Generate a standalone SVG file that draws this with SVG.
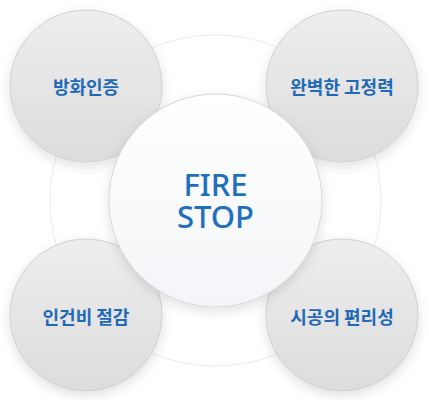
<svg xmlns="http://www.w3.org/2000/svg" width="429" height="400" viewBox="0 0 429 400">
<defs>
<linearGradient id="gSmall" x1="0" y1="0" x2="0" y2="1">
<stop offset="0" stop-color="#eeeeee"/>
<stop offset="1" stop-color="#dcdcdc"/>
</linearGradient>
<linearGradient id="gCenter" x1="0" y1="0" x2="0" y2="1">
<stop offset="0" stop-color="#ffffff"/>
<stop offset="1" stop-color="#f3f5f8"/>
</linearGradient>
<filter id="shadow" x="-30%" y="-30%" width="160%" height="160%">
<feDropShadow dx="0" dy="4" stdDeviation="6" flood-color="#000" flood-opacity="0.12"/>
</filter>
</defs>
<style>
.small{fill:url(#gSmall);stroke:#cfcfcf;stroke-width:1;filter:url(#shadow)}
.center{fill:url(#gCenter);stroke:#d6d6d6;stroke-width:1;filter:url(#shadow)}
.lbl{font-family:"Noto Sans CJK KR","Noto Sans",sans-serif;font-size:18px;font-weight:700;fill:#1f69b6;text-anchor:middle}
.big{font-family:"Noto Sans","Open Sans",sans-serif;font-size:31px;font-weight:500;fill:#1f6fbf;text-anchor:middle}
</style>
<rect width="429" height="400" fill="#ffffff"/>
<g id="ring">
<circle cx="215.5" cy="200.5" r="165.5" fill="#ffffff" stroke="#ececec" stroke-width="1"/>
</g>
<g id="connectors"></g>
<g id="node-tl">
<circle class="small" cx="86" cy="86" r="76"/>
<text class="lbl" x="86" y="94">방화인증</text>
</g>
<g id="node-tr">
<circle class="small" cx="342" cy="86" r="76"/>
<text class="lbl" x="342" y="94">완벽한 고정력</text>
</g>
<g id="node-bl">
<circle class="small" cx="86" cy="315" r="76"/>
<text class="lbl" x="86" y="324">인건비 절감</text>
</g>
<g id="node-br">
<circle class="small" cx="342" cy="315" r="76"/>
<text class="lbl" x="342" y="324">시공의 편리성</text>
</g>
<g id="node-center">
<circle class="center" cx="215.5" cy="200.5" r="106.5"/>
<text class="big" x="215.5" y="196">FIRE</text>
<text class="big" x="215.5" y="228">STOP</text>
</g>
</svg>
